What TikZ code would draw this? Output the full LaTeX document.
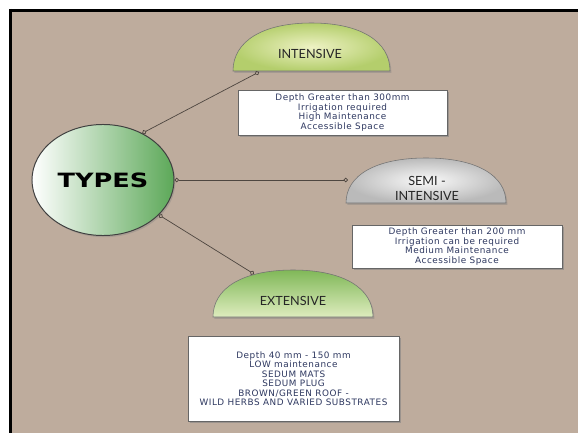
\documentclass[tikz,border=0pt]{standalone}
\usepackage{fontspec}
\setmainfont{DejaVu Sans}
\newfontfamily\latofont{Lato}
\newfontfamily\notefont[LetterSpace=6]{DejaVu Sans}
\usetikzlibrary{arrows.meta,shapes.geometric,shadows}
\definecolor{tanbg}{RGB}{190,172,157}
\definecolor{linkgray}{RGB}{78,70,64}
\definecolor{boxtext}{RGB}{46,56,96}
\definecolor{typesgreen}{RGB}{92,168,88}

\begin{document}
\begin{tikzpicture}[x=0.025cm,y=-0.025cm,
		dome/.style={draw=black!55,thin,drop shadow={opacity=0.4,shadow xshift=1pt,shadow yshift=-1.3pt}},
		infobox/.style={draw=black!60,fill=white,thin,inner sep=0pt,align=center,text=boxtext,
			font=\notefont\fontsize{6.3}{6.75}\selectfont,drop shadow={opacity=0.55,shadow xshift=1.6pt,shadow yshift=-1.6pt}},
		link/.style={draw=linkgray,line width=0.5pt,{Circle[open,length=3.2pt]}-{Circle[open,length=3.2pt]}},
		domelabel/.style={font=\latofont\fontsize{9}{10.5}\selectfont,text=black!85,align=center}]
			% page, tan field and black frame
			\useasboundingbox (0,0) rectangle (578,433);
			\fill[white] (0,0) rectangle (578,433);
			\fill[tanbg] (11,11) rectangle (578,433);
			\draw[black,line width=0.075cm] (9,10.5) -- (578,10.5);
			\draw[black,line width=0.075cm] (10.5,9) -- (10.5,433);
			% centre ellipse
			\node[ellipse,draw=black!75,line width=0.7pt,left color=white,right color=typesgreen,
				minimum width=3.55cm,minimum height=2.775cm,inner sep=0pt,
				drop shadow={opacity=0.35,shadow xshift=1pt,shadow yshift=-1.2pt}] (types) at (103,180)
				{\bfseries\fontsize{14}{14}\selectfont\scalebox{1.3}[1]{TYPES}};
			% three half domes (left, right, top, base)
			\path[dome,inner color={rgb,255:red,238;green,242;blue,196},outer color={rgb,255:red,180;green,206;blue,108}]
				(233,71) .. controls (233,41.2) and (262.8,23) .. (311.5,23)
				.. controls (360.2,23) and (390,41.2) .. (390,71) -- cycle;
			\path[dome,inner color={rgb,255:red,250;green,250;blue,250},outer color={rgb,255:red,186;green,186;blue,186}]
				(346,203) .. controls (346,175.1) and (376,158) .. (426,158)
				.. controls (476,158) and (506,175.1) .. (506,203) -- cycle;
			\path[dome,top color={rgb,255:red,128;green,184;blue,88},bottom color={rgb,255:red,222;green,236;blue,190}]
				(213,317) .. controls (213,287.9) and (243,270) .. (293,270)
				.. controls (343,270) and (373,287.9) .. (373,317) -- cycle;
			\node[domelabel] (intensive) at (310,54) {INTENSIVE};
			\node[domelabel] (semi) at (427,188.5) {SEMI -\\INTENSIVE};
			\node[domelabel] (extensive) at (293,301) {EXTENSIVE};
			% link ends on the domes
			\coordinate (intC) at (259,72);
			\coordinate (semiC) at (348,180);
			\coordinate (extC) at (254,274);
			\draw[link] (types.50) -- (intC);
			\draw[link] (types.east) -- (semiC);
			\draw[link] (types.-32) -- (extC);
			% notes under each dome
			\node[infobox,minimum width=5.225cm,minimum height=1.125cm] (intNote) at (342.5,112.5)
				{Depth Greater than 300mm\\Irrigation required\\High Maintenance\\Accessible Space};
			\node[infobox,minimum width=5.25cm,minimum height=1.075cm] (semiNote) at (457,246.5)
				{Depth Greater than 200 mm\\Irrigation can be required\\Medium Maintenance\\Accessible Space};
			\node[infobox,minimum width=5.275cm,minimum height=2.125cm] (extNote) at (293.5,378.5)
				{Depth 40 mm - 150 mm\\LOW maintenance\\SEDUM MATS\\SEDUM PLUG\\BROWN/GREEN ROOF -\\WILD HERBS AND VARIED SUBSTRATES};
		\end{tikzpicture}
\end{document}
